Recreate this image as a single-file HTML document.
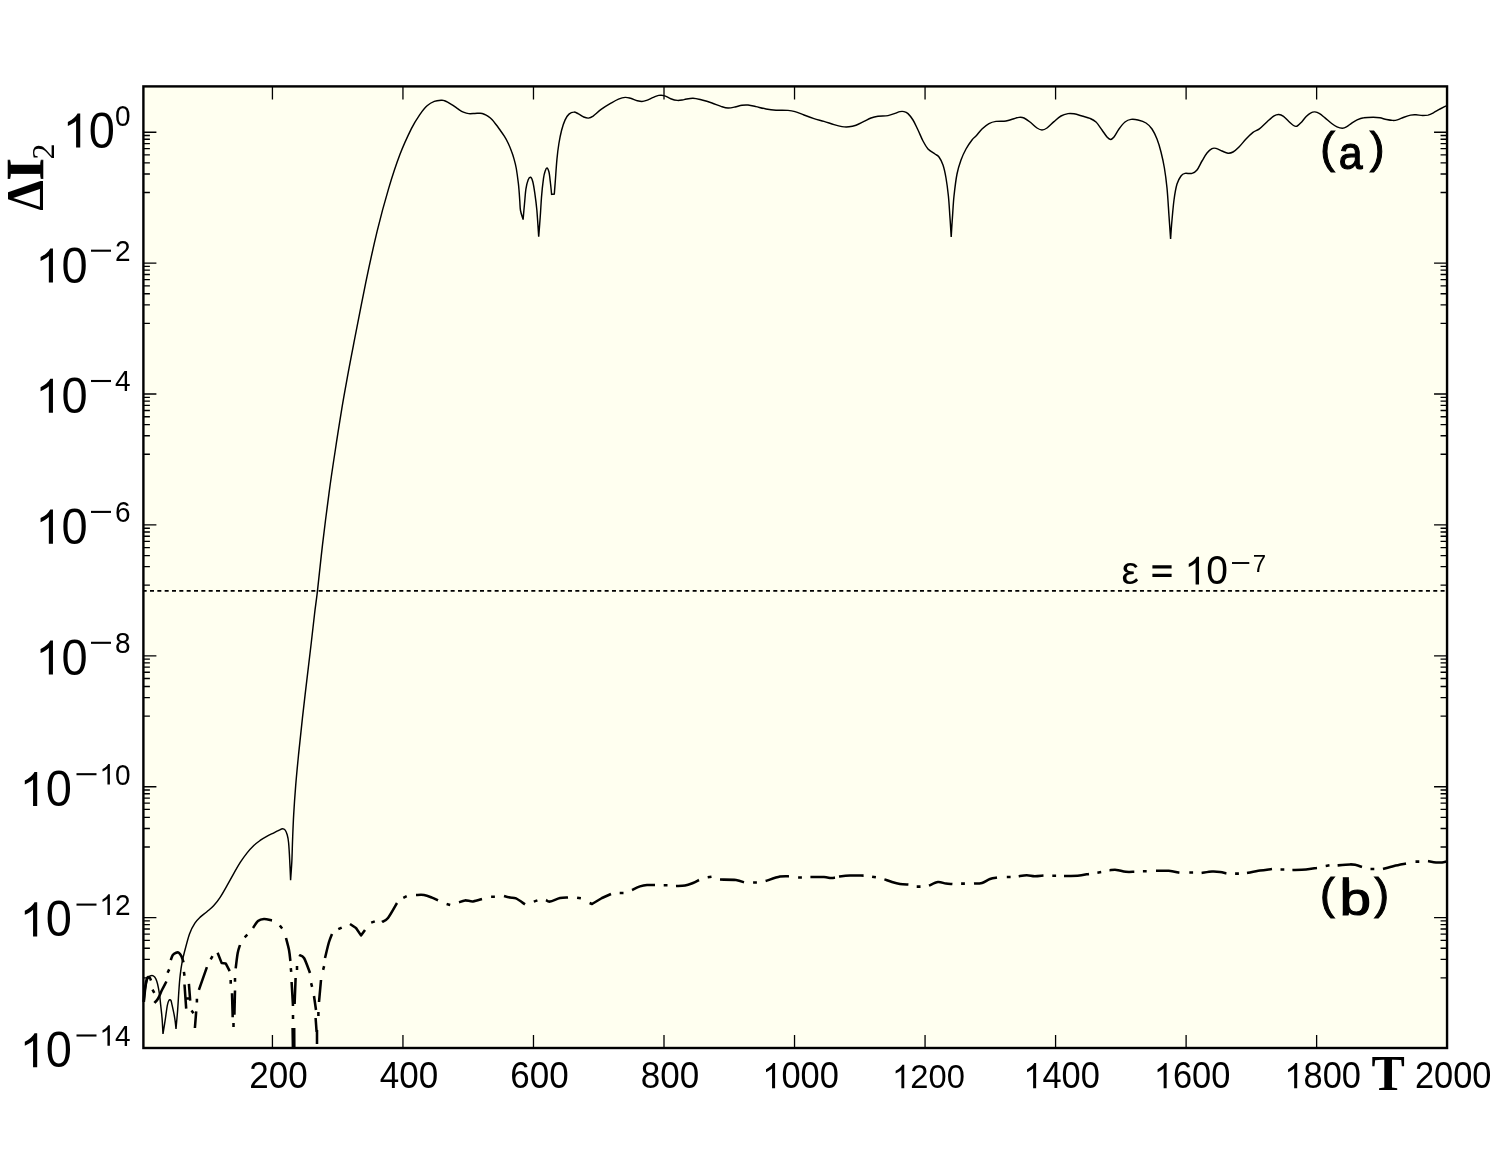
<!DOCTYPE html>
<html><head><meta charset="utf-8"><title>Chart</title>
<style>html,body{margin:0;padding:0;background:#fff;}svg{display:block;will-change:transform;}text{fill:#000;}</style></head>
<body>
<svg width="1500" height="1165" viewBox="0 0 1500 1165">
<rect x="0" y="0" width="1500" height="1165" fill="#ffffff"/>
<rect x="143.4" y="86.4" width="1303.65" height="961.60" fill="#fffff0" stroke="none"/>
<path d="M143.4 132.20h13.0M1447.05 132.20h-13.0M143.4 135.51h6.5M1447.05 135.51h-6.5M143.4 139.26h6.5M1447.05 139.26h-6.5M143.4 143.58h6.5M1447.05 143.58h-6.5M143.4 148.68h6.5M1447.05 148.68h-6.5M143.4 154.90h6.5M1447.05 154.90h-6.5M143.4 162.86h6.5M1447.05 162.86h-6.5M143.4 173.97h6.5M1447.05 173.97h-6.5M143.4 192.47h6.5M1447.05 192.47h-6.5M143.4 263.10h13.0M1447.05 263.10h-13.0M143.4 266.41h6.5M1447.05 266.41h-6.5M143.4 270.16h6.5M1447.05 270.16h-6.5M143.4 274.48h6.5M1447.05 274.48h-6.5M143.4 279.58h6.5M1447.05 279.58h-6.5M143.4 285.80h6.5M1447.05 285.80h-6.5M143.4 293.76h6.5M1447.05 293.76h-6.5M143.4 304.87h6.5M1447.05 304.87h-6.5M143.4 323.37h6.5M1447.05 323.37h-6.5M143.4 394.00h13.0M1447.05 394.00h-13.0M143.4 397.31h6.5M1447.05 397.31h-6.5M143.4 401.06h6.5M1447.05 401.06h-6.5M143.4 405.38h6.5M1447.05 405.38h-6.5M143.4 410.48h6.5M1447.05 410.48h-6.5M143.4 416.70h6.5M1447.05 416.70h-6.5M143.4 424.66h6.5M1447.05 424.66h-6.5M143.4 435.77h6.5M1447.05 435.77h-6.5M143.4 454.27h6.5M1447.05 454.27h-6.5M143.4 524.90h13.0M1447.05 524.90h-13.0M143.4 528.21h6.5M1447.05 528.21h-6.5M143.4 531.96h6.5M1447.05 531.96h-6.5M143.4 536.28h6.5M1447.05 536.28h-6.5M143.4 541.38h6.5M1447.05 541.38h-6.5M143.4 547.60h6.5M1447.05 547.60h-6.5M143.4 555.56h6.5M1447.05 555.56h-6.5M143.4 566.67h6.5M1447.05 566.67h-6.5M143.4 585.17h6.5M1447.05 585.17h-6.5M143.4 655.80h13.0M1447.05 655.80h-13.0M143.4 659.11h6.5M1447.05 659.11h-6.5M143.4 662.86h6.5M1447.05 662.86h-6.5M143.4 667.18h6.5M1447.05 667.18h-6.5M143.4 672.28h6.5M1447.05 672.28h-6.5M143.4 678.50h6.5M1447.05 678.50h-6.5M143.4 686.46h6.5M1447.05 686.46h-6.5M143.4 697.57h6.5M1447.05 697.57h-6.5M143.4 716.07h6.5M1447.05 716.07h-6.5M143.4 786.70h13.0M1447.05 786.70h-13.0M143.4 790.01h6.5M1447.05 790.01h-6.5M143.4 793.76h6.5M1447.05 793.76h-6.5M143.4 798.08h6.5M1447.05 798.08h-6.5M143.4 803.18h6.5M1447.05 803.18h-6.5M143.4 809.40h6.5M1447.05 809.40h-6.5M143.4 817.36h6.5M1447.05 817.36h-6.5M143.4 828.47h6.5M1447.05 828.47h-6.5M143.4 846.97h6.5M1447.05 846.97h-6.5M143.4 917.60h13.0M1447.05 917.60h-13.0M143.4 920.91h6.5M1447.05 920.91h-6.5M143.4 924.66h6.5M1447.05 924.66h-6.5M143.4 928.98h6.5M1447.05 928.98h-6.5M143.4 934.08h6.5M1447.05 934.08h-6.5M143.4 940.30h6.5M1447.05 940.30h-6.5M143.4 948.26h6.5M1447.05 948.26h-6.5M143.4 959.37h6.5M1447.05 959.37h-6.5M143.4 977.87h6.5M1447.05 977.87h-6.5" stroke="#000" stroke-width="1.35" fill="none"/>
<path d="M272.43 1048.0v-13.0M272.43 86.4v13.0M402.95 1048.0v-13.0M402.95 86.4v13.0M533.48 1048.0v-13.0M533.48 86.4v13.0M664.00 1048.0v-13.0M664.00 86.4v13.0M794.53 1048.0v-13.0M794.53 86.4v13.0M925.06 1048.0v-13.0M925.06 86.4v13.0M1055.58 1048.0v-13.0M1055.58 86.4v13.0M1186.11 1048.0v-13.0M1186.11 86.4v13.0M1316.63 1048.0v-13.0M1316.63 86.4v13.0" stroke="#000" stroke-width="1.3" fill="none"/>
<path d="M143.4 590.9H1447.05" stroke="#000" stroke-width="1.9" stroke-dasharray="4 3.333" stroke-dashoffset="0.73" fill="none"/>
<path d="M144.4 1001.9C144.6 1000.2 145.0 995.1 145.4 991.9C145.8 988.7 146.1 985.0 146.7 982.5C147.2 980.0 147.8 978.3 148.7 977.1C149.6 975.9 151.0 975.5 152.0 975.5C153.0 975.5 153.9 976.2 154.7 977.1C155.5 978.0 156.1 979.3 156.7 981.1C157.3 982.9 157.9 985.3 158.4 987.8C158.9 990.3 159.3 993.0 159.7 995.9C160.1 998.8 160.3 1001.4 160.7 1005.2C161.1 1009.0 161.7 1013.8 162.1 1018.6C162.5 1023.4 162.8 1031.4 163.0 1034.0C163.4 1031.4 164.7 1023.4 165.4 1018.6C166.1 1013.8 166.8 1008.2 167.4 1005.2C168.0 1002.2 168.2 1001.4 168.8 1000.6C169.4 999.8 170.2 999.4 170.8 1000.2C171.4 1001.0 171.4 1002.1 172.1 1005.2C172.8 1008.3 174.2 1014.6 174.8 1018.6C175.5 1022.6 175.8 1027.3 176.0 1029.0C176.2 1026.2 177.0 1018.2 177.5 1012.0C178.0 1005.8 178.4 998.0 178.8 991.9C179.2 985.8 179.6 980.1 180.2 975.1C180.8 970.1 181.5 965.4 182.2 961.7C182.9 958.0 183.0 957.6 184.2 953.0C185.4 948.4 187.7 938.9 189.5 933.9C191.3 928.9 193.1 926.0 194.9 923.2C196.7 920.4 198.2 919.0 200.2 917.1C202.2 915.2 204.7 913.7 206.9 911.8C209.1 909.9 211.4 908.2 213.6 905.8C215.8 903.3 218.1 900.5 220.3 897.1C222.5 893.8 224.8 889.6 227.0 885.7C229.2 881.8 231.5 877.5 233.7 873.6C235.9 869.7 238.2 865.7 240.4 862.2C242.6 858.8 244.9 855.7 247.1 852.9C249.3 850.1 251.6 847.6 253.8 845.5C256.0 843.4 258.3 841.8 260.5 840.2C262.7 838.6 265.0 837.3 267.2 836.1C269.4 834.9 271.9 833.8 273.9 832.8C275.9 831.8 277.8 830.8 279.2 830.1C280.6 829.4 281.6 828.8 282.6 828.8C283.6 828.8 284.4 829.1 285.2 830.1C286.0 831.1 286.6 832.7 287.2 834.8C287.8 836.9 288.2 838.6 288.6 842.8C289.0 847.0 289.4 854.0 289.7 860.2C290.0 866.5 290.5 876.9 290.6 880.3C290.8 876.9 291.6 867.1 291.9 860.2C292.2 853.3 292.3 846.5 292.6 838.9C292.9 831.3 293.2 823.3 293.7 814.4C294.2 805.5 294.9 795.4 295.7 785.4C296.5 775.4 297.5 765.3 298.6 754.1C299.7 742.9 301.0 730.7 302.4 718.4C303.8 706.1 305.3 693.0 306.8 680.4C308.3 667.8 310.0 653.6 311.3 642.5C312.6 631.4 313.6 622.1 314.6 613.5C315.6 604.9 316.2 602.2 317.5 590.7C318.8 579.2 320.6 561.0 322.5 544.8C324.4 528.6 326.9 509.2 329.0 493.3C331.1 477.4 333.2 463.7 335.4 449.5C337.5 435.3 339.8 421.1 341.9 408.2C344.0 395.3 346.2 383.8 348.3 372.2C350.4 360.6 351.8 353.6 354.7 338.7C357.6 323.8 362.0 300.8 365.7 282.9C369.4 265.0 373.3 247.1 377.1 231.4C380.9 215.7 384.8 201.4 388.6 188.6C392.4 175.8 396.2 164.3 400.0 154.3C403.8 144.3 408.1 135.3 411.4 128.6C414.7 121.9 417.4 118.1 420.0 114.3C422.6 110.5 424.7 107.8 427.1 105.7C429.5 103.6 431.9 102.3 434.3 101.4C436.7 100.5 439.8 100.4 441.5 100.3C443.2 100.2 443.4 100.3 444.5 100.7C445.6 101.1 446.5 101.6 448.0 102.4C449.5 103.2 451.6 104.5 453.4 105.7C455.2 106.9 457.0 108.3 458.7 109.4C460.4 110.5 461.7 111.4 463.4 112.1C465.1 112.8 466.9 113.4 468.8 113.6C470.7 113.8 472.9 113.5 474.8 113.4C476.7 113.4 478.6 113.2 480.2 113.3C481.8 113.4 482.9 113.7 484.2 114.2C485.5 114.7 486.9 115.5 488.2 116.4C489.5 117.3 490.9 118.4 492.2 119.8C493.5 121.2 494.9 123.1 496.2 124.8C497.5 126.5 498.8 128.3 500.2 130.2C501.6 132.1 502.9 134.0 504.3 136.2C505.7 138.4 507.1 140.9 508.3 143.5C509.5 146.1 510.7 149.0 511.6 151.6C512.6 154.2 513.2 156.1 514.0 158.9C514.8 161.7 515.6 164.4 516.3 168.5C517.0 172.6 517.8 178.5 518.4 183.7C519.0 188.9 519.4 195.3 519.7 199.8C520.1 204.3 519.9 207.2 520.5 210.5C521.1 213.8 522.7 218.1 523.1 219.6C523.3 217.0 524.0 208.9 524.5 203.8C525.0 198.7 525.3 193.1 525.9 189.1C526.5 185.1 527.4 181.7 528.2 179.7C529.0 177.7 529.8 177.0 530.6 177.3C531.4 177.6 532.1 179.1 532.8 181.7C533.5 184.3 534.1 188.3 534.8 193.1C535.5 197.9 536.2 203.2 536.9 210.5C537.5 217.8 538.4 232.2 538.7 236.6C539.0 233.4 539.7 223.8 540.2 217.2C540.7 210.6 541.0 203.6 541.5 197.1C542.0 190.6 542.9 182.8 543.5 178.4C544.1 174.1 544.6 172.7 545.2 171.0C545.8 169.3 546.3 167.9 546.9 168.0C547.5 168.1 548.3 169.5 548.9 171.7C549.5 173.9 549.8 177.2 550.2 181.0C550.7 184.8 551.4 192.2 551.6 194.4C552.0 194.3 553.8 194.2 554.3 194.1C554.5 191.2 555.2 182.8 555.6 177.0C556.0 171.2 556.4 165.2 556.9 159.6C557.4 154.0 558.1 148.4 558.9 143.5C559.7 138.6 560.6 134.1 561.6 130.2C562.6 126.3 563.8 122.8 565.0 120.1C566.2 117.4 567.5 115.4 569.0 114.1C570.5 112.8 572.1 112.1 573.7 112.1C575.3 112.0 576.7 113.0 578.4 113.8C580.1 114.6 582.0 116.3 583.7 117.0C585.4 117.7 586.8 118.2 588.4 118.1C590.0 117.9 591.0 117.5 593.1 116.1C595.2 114.6 598.2 111.5 601.1 109.4C604.0 107.3 607.6 105.1 610.5 103.4C613.4 101.7 616.0 100.1 618.5 99.1C621.0 98.1 623.2 97.5 625.2 97.4C627.2 97.3 628.6 97.8 630.6 98.3C632.6 98.8 635.4 100.2 637.3 100.7C639.2 101.2 640.3 101.5 641.9 101.5C643.5 101.5 644.7 101.1 646.6 100.4C648.5 99.7 651.3 98.2 653.3 97.4C655.3 96.6 656.9 95.7 658.7 95.4C660.5 95.1 662.0 95.0 664.0 95.6C666.0 96.1 668.5 97.9 670.7 98.7C672.9 99.5 675.2 100.2 677.4 100.4C679.6 100.6 681.5 100.0 684.1 99.6C686.7 99.2 690.0 98.1 693.0 98.2C696.0 98.3 698.8 99.2 702.0 100.0C705.2 100.8 708.8 101.9 712.0 103.0C715.2 104.1 718.3 105.6 721.0 106.4C723.7 107.2 725.7 107.9 728.0 108.0C730.3 108.1 732.7 107.5 735.0 107.0C737.3 106.5 739.8 105.5 742.0 105.2C744.2 104.9 745.7 104.8 748.0 105.0C750.3 105.2 753.0 105.9 756.0 106.6C759.0 107.3 762.7 108.4 766.0 109.0C769.3 109.6 772.3 110.0 776.0 110.2C779.7 110.4 784.8 110.2 788.0 110.4C791.2 110.6 792.3 110.8 795.0 111.6C797.7 112.4 800.8 113.8 804.0 115.0C807.2 116.2 810.7 117.5 814.0 118.6C817.3 119.7 820.7 120.4 824.0 121.4C827.3 122.4 831.0 123.7 834.0 124.6C837.0 125.5 839.5 126.2 842.0 126.6C844.5 127.0 846.7 127.0 849.0 126.8C851.3 126.6 853.5 126.1 856.0 125.2C858.5 124.3 861.5 122.6 864.0 121.4C866.5 120.2 868.7 118.9 871.0 118.0C873.3 117.1 875.2 116.6 878.0 116.2C880.8 115.8 885.2 116.1 888.0 115.6C890.8 115.1 893.0 114.1 895.0 113.4C897.0 112.7 898.5 111.9 900.0 111.6C901.5 111.3 902.7 111.3 904.0 111.6C905.3 111.9 906.5 112.2 908.0 113.6C909.5 115.0 911.3 117.3 913.0 120.0C914.7 122.7 916.3 126.5 918.0 130.0C919.7 133.5 921.3 137.8 923.0 141.0C924.7 144.2 926.0 146.8 928.0 149.0C930.0 151.2 933.2 152.7 935.0 154.0C936.8 155.3 937.7 155.2 939.0 157.0C940.3 158.8 941.8 161.5 943.0 165.0C944.2 168.5 945.1 172.8 946.0 178.0C946.9 183.2 947.7 189.3 948.4 196.0C949.1 202.7 949.5 211.2 950.0 218.0C950.5 224.8 951.0 233.8 951.2 237.0C951.4 233.8 951.9 224.8 952.4 218.0C952.9 211.2 953.2 203.3 954.0 196.0C954.8 188.7 955.8 180.0 957.0 174.0C958.2 168.0 959.5 164.2 961.0 160.0C962.5 155.8 964.2 152.3 966.0 149.0C967.8 145.7 970.3 142.2 972.0 140.0C973.7 137.8 974.3 137.8 976.0 136.0C977.7 134.2 979.8 131.1 982.0 129.0C984.2 126.9 986.7 124.9 989.0 123.6C991.3 122.3 993.2 121.8 996.0 121.4C998.8 121.0 1003.2 121.4 1006.0 121.0C1008.8 120.6 1010.8 119.6 1013.0 119.0C1015.2 118.4 1017.2 117.6 1019.0 117.4C1020.8 117.2 1022.2 117.2 1024.0 118.0C1025.8 118.8 1027.8 120.3 1030.0 122.0C1032.2 123.7 1035.0 126.7 1037.0 128.0C1039.0 129.3 1040.3 130.0 1042.0 130.0C1043.7 130.0 1045.0 129.4 1047.0 128.0C1049.0 126.6 1051.7 123.6 1054.0 121.6C1056.3 119.6 1058.7 117.3 1061.0 116.0C1063.3 114.7 1065.8 114.0 1068.0 113.6C1070.2 113.2 1071.7 113.4 1074.0 113.8C1076.3 114.2 1079.3 115.2 1082.0 116.0C1084.7 116.8 1087.7 117.4 1090.0 118.4C1092.3 119.4 1094.0 120.1 1096.0 122.0C1098.0 123.9 1100.2 127.5 1102.0 130.0C1103.8 132.5 1105.6 135.4 1107.0 137.0C1108.4 138.6 1109.4 139.4 1110.6 139.4C1111.8 139.4 1112.6 138.7 1114.0 137.0C1115.4 135.3 1117.2 131.5 1119.0 129.0C1120.8 126.5 1123.0 123.6 1125.0 122.0C1127.0 120.4 1128.8 119.7 1131.0 119.4C1133.2 119.1 1135.5 119.4 1138.0 120.0C1140.5 120.6 1143.7 121.5 1146.0 123.0C1148.3 124.5 1150.2 126.3 1152.0 129.0C1153.8 131.7 1155.5 135.2 1157.0 139.0C1158.5 142.8 1159.8 147.2 1161.0 152.0C1162.2 156.8 1163.4 162.0 1164.4 168.0C1165.4 174.0 1166.2 180.0 1167.0 188.0C1167.8 196.0 1168.4 207.5 1169.0 216.0C1169.6 224.5 1170.3 235.2 1170.6 239.0C1170.8 235.8 1171.4 226.5 1172.0 220.0C1172.6 213.5 1173.2 206.0 1174.0 200.0C1174.8 194.0 1175.8 188.0 1177.0 184.0C1178.2 180.0 1179.7 177.8 1181.0 176.0C1182.3 174.2 1183.2 173.8 1185.0 173.4C1186.8 173.0 1190.0 174.0 1192.0 173.4C1194.0 172.8 1195.3 172.1 1197.0 170.0C1198.7 167.9 1200.3 163.8 1202.0 161.0C1203.7 158.2 1205.3 155.1 1207.0 153.0C1208.7 150.9 1210.5 149.4 1212.0 148.6C1213.5 147.8 1214.3 148.0 1216.0 148.4C1217.7 148.8 1220.0 150.2 1222.0 151.0C1224.0 151.8 1226.2 153.0 1228.0 153.2C1229.8 153.4 1231.2 153.0 1233.0 152.0C1234.8 151.0 1236.8 149.2 1239.0 147.0C1241.2 144.8 1243.7 141.4 1246.0 139.0C1248.3 136.6 1250.8 134.1 1253.0 132.4C1255.2 130.7 1257.0 130.7 1259.4 128.9C1261.8 127.1 1265.0 123.7 1267.4 121.5C1269.9 119.3 1272.2 117.1 1274.1 115.9C1276.0 114.7 1277.2 114.4 1278.8 114.5C1280.4 114.6 1281.8 115.2 1283.5 116.4C1285.2 117.6 1287.1 120.0 1288.8 121.5C1290.5 123.0 1292.2 124.7 1293.5 125.5C1294.8 126.3 1295.7 126.7 1296.9 126.2C1298.1 125.8 1299.4 124.4 1300.9 122.8C1302.5 121.2 1304.5 118.1 1306.2 116.4C1307.9 114.7 1309.5 113.5 1310.9 112.8C1312.4 112.0 1313.5 111.8 1314.9 111.9C1316.4 112.1 1317.9 112.7 1319.6 113.7C1321.3 114.7 1323.0 116.3 1325.0 117.9C1327.0 119.5 1329.7 122.0 1331.7 123.5C1333.7 125.0 1335.2 126.1 1337.0 126.9C1338.8 127.7 1340.8 128.2 1342.4 128.2C1344.0 128.2 1344.9 127.8 1346.4 126.9C1348.0 126.1 1349.9 124.3 1351.7 123.1C1353.5 121.9 1355.1 120.8 1357.1 119.9C1359.1 119.0 1361.1 118.2 1363.8 117.8C1366.5 117.3 1370.5 117.2 1373.2 117.2C1375.9 117.2 1377.7 117.4 1379.9 117.8C1382.1 118.2 1384.4 119.1 1386.5 119.5C1388.6 119.9 1390.8 120.3 1392.6 120.4C1394.4 120.5 1395.4 120.4 1397.3 119.9C1399.2 119.4 1401.7 118.0 1403.9 117.2C1406.1 116.4 1408.6 115.5 1410.6 115.1C1412.6 114.7 1414.0 114.7 1416.0 114.8C1418.0 114.9 1420.7 115.5 1422.7 115.5C1424.7 115.5 1426.2 115.5 1428.0 115.1C1429.8 114.6 1431.6 113.7 1433.4 112.8C1435.2 111.9 1437.0 110.7 1438.8 109.7C1440.6 108.7 1442.8 107.5 1444.1 106.8C1445.4 106.1 1446.3 105.9 1446.8 105.7" stroke="#000" stroke-width="1.45" fill="none" stroke-linejoin="miter" stroke-miterlimit="2.5"/>
<path d="M143.6 1001.9C143.8 999.5 144.4 991.7 145.0 987.8C145.6 983.9 146.3 980.3 147.0 978.5C147.7 976.7 148.7 976.8 149.4 977.1C150.1 977.4 150.7 979.9 151.0 980.5M152.5 989.6L154.3 992.8M154.4 1002.9C155.0 1002.2 156.8 1000.7 158.1 998.5C159.4 996.3 160.7 992.6 162.1 989.8C163.5 987.0 165.7 982.9 166.4 981.5M167.6 972.8L169.2 969.4M170.8 960.1C171.1 959.2 171.9 956.2 172.8 955.0C173.7 953.8 175.1 953.1 176.1 952.7C177.1 952.3 177.9 952.1 178.8 952.7C179.7 953.3 180.7 954.8 181.5 956.4C182.3 958.0 183.2 961.4 183.5 962.4M183.9 971.9L184.5 975.7M184.5 984.5L186.2 1008.6M188.9 983.8L190.2 1000.6M186.0 998.5L190.0 998.5M196.9 998.7L196.9 1002.5M191.5 1010.6L193.5 1013.3M196.2 1011.3L194.9 1028.0M198.9 989.8L206.9 967.1M210.7 959.3L212.5 956.1M217.6 952.7L221.7 963.1L225.7 963.4L229.7 971.1M230.7 979.9L230.7 983.7M235.0 977.9L235.0 981.7M232.0 993.2L232.7 1017.3M235.0 990.5L234.4 1014.6M233.5 1023.1L233.5 1026.9M235.7 968.4C236.0 965.8 237.0 956.9 237.7 953.0C238.4 949.1 239.6 946.3 240.0 945.0M244.7 937.3L247.3 934.7M253.0 928.0C253.8 926.8 256.2 922.5 258.0 921.0C259.8 919.5 261.7 919.1 264.0 919.0C266.3 918.9 270.7 920.2 272.0 920.4M279.8 925.5L282.2 928.5M286.0 938.0C286.5 940.0 288.3 946.2 289.0 950.0C289.7 953.8 290.2 959.2 290.4 961.0M290.8 968.1L291.2 971.9M297.0 966.1L297.0 969.9M291.6 982.0L293.0 1006.0M295.6 978.0L294.6 1004.0M293.0 1015.1L293.0 1018.9M292.6 1028.0L292.9 1047.0M294.2 1028.0L294.3 1047.0M299.0 955.0C299.8 955.5 302.2 955.0 304.0 958.0C305.8 961.0 309.0 970.5 310.0 973.0M311.1 983.2L312.1 986.8M314.0 996.0L316.0 1010.0M318.4 1012.1L318.4 1015.9M315.6 1018.0L316.6 1032.0M317.0 1030.0L317.0 1044.0M319.0 1002.0L321.0 980.0M323.1 969.8L324.1 966.2M325.0 958.0C325.7 955.3 327.8 946.0 329.0 942.0C330.2 938.0 331.5 935.3 332.0 934.0M338.3 929.2L341.7 927.6M350.0 924.0L356.0 928.0L361.0 935.4L365.0 930.0M371.2 922.6L374.8 921.4M382.0 922.0C383.0 921.3 385.5 921.2 388.0 918.0C390.5 914.8 395.5 905.5 397.0 903.0M403.3 897.8L406.7 896.2M416.0 895.0C417.3 895.0 421.3 894.6 424.0 895.0C426.7 895.4 429.7 896.7 432.0 897.6C434.3 898.5 437.0 899.9 438.0 900.4M446.6 903.9L450.2 904.9M459.0 902.4C460.0 902.1 462.7 900.6 465.0 900.4C467.3 900.2 470.2 901.6 473.0 901.4C475.8 901.2 480.5 899.4 482.0 899.0M491.1 896.8L494.9 896.8M504.0 896.0C505.0 896.3 508.0 897.2 510.0 897.6C512.0 898.0 513.5 897.3 516.0 898.4C518.5 899.5 523.5 903.4 525.0 904.4M533.8 901.6L537.4 900.4M546.0 900.0C546.7 900.3 547.7 901.9 550.0 901.6C552.3 901.3 557.0 898.7 560.0 898.0C563.0 897.3 566.7 897.5 568.0 897.4M577.1 897.7L580.9 898.3M589.6 903.0L592.0 904.0L602.0 898.0L611.0 894.0M619.7 893.0L623.5 893.0M632.0 890.0C633.3 889.4 637.5 887.2 640.0 886.4C642.5 885.6 644.5 885.2 647.0 885.0C649.5 884.8 653.7 885.0 655.0 885.0M663.7 885.2L667.5 885.2M676.0 886.0C677.5 885.9 682.2 886.1 685.0 885.6C687.8 885.1 690.7 883.9 693.0 883.0C695.3 882.1 698.0 880.5 699.0 880.0M707.7 877.3L711.5 876.7M720.0 879.6C722.7 879.7 732.0 879.5 736.0 880.0C740.0 880.5 742.7 882.0 744.0 882.4M753.1 882.4L756.9 882.4M765.6 881.0C768.0 880.3 776.1 877.4 780.0 876.6C783.9 875.8 787.5 876.3 789.0 876.2M798.1 877.4L801.9 877.4M810.4 877.0C812.7 877.0 820.6 876.8 824.0 877.0C827.4 877.2 829.2 877.9 831.0 878.0C832.8 878.1 834.3 877.7 835.0 877.6M839.0 876.6C840.8 876.4 845.9 875.8 850.0 875.6C854.1 875.4 861.3 875.6 863.6 875.6M872.1 876.7L875.9 877.3M884.4 879.4C885.7 879.8 889.4 881.2 892.0 882.0C894.6 882.8 897.3 883.6 900.0 884.0C902.7 884.4 907.0 884.5 908.4 884.6M916.7 886.6L920.5 886.6M929.0 885.6C930.5 885.0 935.2 882.3 938.0 882.0C940.8 881.7 943.6 883.3 946.0 883.6C948.4 883.9 951.3 883.9 952.4 884.0M961.1 883.6L964.9 883.6M974.0 883.6C975.3 883.5 979.3 883.8 982.0 883.0C984.7 882.2 987.5 879.9 990.0 879.0C992.5 878.1 995.8 877.8 997.0 877.6M1006.8 876.9L1010.6 876.9M1018.7 876.2C1020.1 876.0 1024.1 875.2 1026.8 875.2C1029.5 875.2 1032.0 876.2 1034.8 876.2C1037.6 876.2 1042.0 875.6 1043.5 875.5M1052.3 875.8L1056.1 875.8M1064.0 875.9C1066.3 875.9 1073.4 876.1 1077.6 875.8C1081.8 875.5 1087.1 874.2 1089.0 873.9M1097.4 872.7L1101.2 872.1M1109.5 870.2C1110.7 870.2 1113.8 869.6 1116.5 869.9C1119.2 870.2 1122.8 871.5 1125.8 871.8C1128.8 872.1 1132.9 871.8 1134.3 871.8M1142.9 871.2L1146.7 871.2M1156.0 870.8C1158.1 870.8 1164.8 870.5 1168.7 870.8C1172.6 871.1 1177.6 872.5 1179.4 872.8M1189.3 872.5L1193.1 872.5M1201.6 873.0C1203.3 872.8 1208.9 871.8 1212.0 871.6C1215.1 871.4 1217.6 871.7 1220.0 872.0C1222.4 872.3 1225.3 873.2 1226.4 873.4M1235.1 873.6L1238.9 873.6M1247.0 873.0C1249.2 872.6 1255.8 871.3 1260.0 870.6C1264.2 869.9 1270.0 869.3 1272.0 869.0M1280.5 869.4L1284.3 869.4M1292.4 870.0C1294.7 869.9 1301.9 869.7 1306.0 869.4C1310.1 869.1 1315.2 868.2 1317.0 868.0M1325.7 865.9L1329.5 865.3M1337.6 865.4C1339.7 865.2 1346.9 864.5 1350.0 864.4C1353.1 864.3 1354.0 864.6 1356.0 865.0C1358.0 865.4 1361.0 866.7 1362.0 867.0M1370.5 869.0L1374.3 869.0M1383.0 869.0C1384.8 868.5 1390.2 866.9 1394.0 866.0C1397.8 865.1 1404.0 864.0 1406.0 863.6M1415.5 861.6L1419.3 861.6M1428.0 861.0C1429.3 861.2 1433.7 862.2 1436.0 862.4C1438.3 862.6 1440.2 862.5 1442.0 862.4C1443.8 862.3 1445.8 861.7 1446.5 861.6" stroke="#000" stroke-width="2.55" fill="none" stroke-linejoin="round"/>
<rect x="143.4" y="86.4" width="1303.65" height="961.60" fill="none" stroke="#000" stroke-width="2.4"/>
<text transform="translate(249.23,1088.20) scale(1,1.07)" font-family="Liberation Sans, sans-serif" font-size="35">2</text>
<text transform="translate(268.69,1088.20) scale(1,1.07)" font-family="Liberation Sans, sans-serif" font-size="35">0</text>
<text transform="translate(288.16,1088.20) scale(1,1.07)" font-family="Liberation Sans, sans-serif" font-size="35">0</text>
<text transform="translate(379.75,1088.20) scale(1,1.07)" font-family="Liberation Sans, sans-serif" font-size="35">4</text>
<text transform="translate(399.22,1088.20) scale(1,1.07)" font-family="Liberation Sans, sans-serif" font-size="35">0</text>
<text transform="translate(418.68,1088.20) scale(1,1.07)" font-family="Liberation Sans, sans-serif" font-size="35">0</text>
<text transform="translate(510.28,1088.20) scale(1,1.07)" font-family="Liberation Sans, sans-serif" font-size="35">6</text>
<text transform="translate(529.75,1088.20) scale(1,1.07)" font-family="Liberation Sans, sans-serif" font-size="35">0</text>
<text transform="translate(549.21,1088.20) scale(1,1.07)" font-family="Liberation Sans, sans-serif" font-size="35">0</text>
<text transform="translate(640.81,1088.20) scale(1,1.07)" font-family="Liberation Sans, sans-serif" font-size="35">8</text>
<text transform="translate(660.27,1088.20) scale(1,1.07)" font-family="Liberation Sans, sans-serif" font-size="35">0</text>
<text transform="translate(679.74,1088.20) scale(1,1.07)" font-family="Liberation Sans, sans-serif" font-size="35">0</text>
<path transform="translate(762.27,1088.20) scale(0.01680,-0.01720)" d="M763 0H583V1147Q518 1085 412.5 1023T223 930V1104Q374 1175 487 1276T647 1472H763Z"/>
<text transform="translate(781.40,1088.20) scale(1,1.07)" font-family="Liberation Sans, sans-serif" font-size="34.4">0</text>
<text transform="translate(800.53,1088.20) scale(1,1.07)" font-family="Liberation Sans, sans-serif" font-size="34.4">0</text>
<text transform="translate(819.66,1088.20) scale(1,1.07)" font-family="Liberation Sans, sans-serif" font-size="34.4">0</text>
<path transform="translate(892.08,1088.20) scale(0.01597,-0.01589)" d="M763 0H583V1147Q518 1085 412.5 1023T223 930V1104Q374 1175 487 1276T647 1472H763Z"/>
<text transform="translate(910.27,1088.20) scale(1,1.04)" font-family="Liberation Sans, sans-serif" font-size="32.7">2</text>
<text transform="translate(928.46,1088.20) scale(1,1.04)" font-family="Liberation Sans, sans-serif" font-size="32.7">0</text>
<text transform="translate(946.64,1088.20) scale(1,1.04)" font-family="Liberation Sans, sans-serif" font-size="32.7">0</text>
<path transform="translate(1023.32,1088.20) scale(0.01680,-0.01720)" d="M763 0H583V1147Q518 1085 412.5 1023T223 930V1104Q374 1175 487 1276T647 1472H763Z"/>
<text transform="translate(1042.45,1088.20) scale(1,1.07)" font-family="Liberation Sans, sans-serif" font-size="34.4">4</text>
<text transform="translate(1061.58,1088.20) scale(1,1.07)" font-family="Liberation Sans, sans-serif" font-size="34.4">0</text>
<text transform="translate(1080.71,1088.20) scale(1,1.07)" font-family="Liberation Sans, sans-serif" font-size="34.4">0</text>
<path transform="translate(1153.84,1088.20) scale(0.01680,-0.01720)" d="M763 0H583V1147Q518 1085 412.5 1023T223 930V1104Q374 1175 487 1276T647 1472H763Z"/>
<text transform="translate(1172.98,1088.20) scale(1,1.07)" font-family="Liberation Sans, sans-serif" font-size="34.4">6</text>
<text transform="translate(1192.11,1088.20) scale(1,1.07)" font-family="Liberation Sans, sans-serif" font-size="34.4">0</text>
<text transform="translate(1211.24,1088.20) scale(1,1.07)" font-family="Liberation Sans, sans-serif" font-size="34.4">0</text>
<path transform="translate(1284.37,1088.20) scale(0.01680,-0.01720)" d="M763 0H583V1147Q518 1085 412.5 1023T223 930V1104Q374 1175 487 1276T647 1472H763Z"/>
<text transform="translate(1303.50,1088.20) scale(1,1.07)" font-family="Liberation Sans, sans-serif" font-size="34.4">8</text>
<text transform="translate(1322.63,1088.20) scale(1,1.07)" font-family="Liberation Sans, sans-serif" font-size="34.4">0</text>
<text transform="translate(1341.77,1088.20) scale(1,1.07)" font-family="Liberation Sans, sans-serif" font-size="34.4">0</text>
<text transform="translate(1414.90,1088.20) scale(1,1.07)" font-family="Liberation Sans, sans-serif" font-size="34.4">2</text>
<text transform="translate(1434.03,1088.20) scale(1,1.07)" font-family="Liberation Sans, sans-serif" font-size="34.4">0</text>
<text transform="translate(1453.16,1088.20) scale(1,1.07)" font-family="Liberation Sans, sans-serif" font-size="34.4">0</text>
<text transform="translate(1472.29,1088.20) scale(1,1.07)" font-family="Liberation Sans, sans-serif" font-size="34.4">0</text>
<text transform="translate(115.03,126.00) scale(1,1.07)" font-family="Liberation Sans, sans-serif" font-size="28">0</text>
<path transform="translate(62.72,147.50) scale(0.02295,-0.02317)" d="M763 0H583V1147Q518 1085 412.5 1023T223 930V1104Q374 1175 487 1276T647 1472H763Z"/>
<text transform="translate(88.86,147.50) scale(1,1.055)" font-family="Liberation Sans, sans-serif" font-size="47">0</text>
<text transform="translate(115.03,261.00) scale(1,1.07)" font-family="Liberation Sans, sans-serif" font-size="28">2</text>
<path d="M91.0 250.7H111.0" stroke="#000" stroke-width="2.1"/>
<path transform="translate(35.45,282.50) scale(0.02295,-0.02317)" d="M763 0H583V1147Q518 1085 412.5 1023T223 930V1104Q374 1175 487 1276T647 1472H763Z"/>
<text transform="translate(61.59,282.50) scale(1,1.055)" font-family="Liberation Sans, sans-serif" font-size="47">0</text>
<text transform="translate(115.03,391.30) scale(1,1.07)" font-family="Liberation Sans, sans-serif" font-size="28">4</text>
<path d="M91.0 381.0H111.0" stroke="#000" stroke-width="2.1"/>
<path transform="translate(35.45,412.80) scale(0.02295,-0.02317)" d="M763 0H583V1147Q518 1085 412.5 1023T223 930V1104Q374 1175 487 1276T647 1472H763Z"/>
<text transform="translate(61.59,412.80) scale(1,1.055)" font-family="Liberation Sans, sans-serif" font-size="47">0</text>
<text transform="translate(115.03,522.20) scale(1,1.07)" font-family="Liberation Sans, sans-serif" font-size="28">6</text>
<path d="M91.0 511.9H111.0" stroke="#000" stroke-width="2.1"/>
<path transform="translate(35.45,543.70) scale(0.02295,-0.02317)" d="M763 0H583V1147Q518 1085 412.5 1023T223 930V1104Q374 1175 487 1276T647 1472H763Z"/>
<text transform="translate(61.59,543.70) scale(1,1.055)" font-family="Liberation Sans, sans-serif" font-size="47">0</text>
<text transform="translate(115.03,653.10) scale(1,1.07)" font-family="Liberation Sans, sans-serif" font-size="28">8</text>
<path d="M91.0 642.8H111.0" stroke="#000" stroke-width="2.1"/>
<path transform="translate(35.45,674.60) scale(0.02295,-0.02317)" d="M763 0H583V1147Q518 1085 412.5 1023T223 930V1104Q374 1175 487 1276T647 1472H763Z"/>
<text transform="translate(61.59,674.60) scale(1,1.055)" font-family="Liberation Sans, sans-serif" font-size="47">0</text>
<path transform="translate(99.46,784.50) scale(0.01367,-0.01400)" d="M763 0H583V1147Q518 1085 412.5 1023T223 930V1104Q374 1175 487 1276T647 1472H763Z"/>
<text transform="translate(115.03,784.50) scale(1,1.07)" font-family="Liberation Sans, sans-serif" font-size="28">0</text>
<path d="M76.5 774.2H96.5" stroke="#000" stroke-width="2.1"/>
<path transform="translate(19.68,806.00) scale(0.02295,-0.02317)" d="M763 0H583V1147Q518 1085 412.5 1023T223 930V1104Q374 1175 487 1276T647 1472H763Z"/>
<text transform="translate(45.82,806.00) scale(1,1.055)" font-family="Liberation Sans, sans-serif" font-size="47">0</text>
<path transform="translate(99.46,914.90) scale(0.01367,-0.01400)" d="M763 0H583V1147Q518 1085 412.5 1023T223 930V1104Q374 1175 487 1276T647 1472H763Z"/>
<text transform="translate(115.03,914.90) scale(1,1.07)" font-family="Liberation Sans, sans-serif" font-size="28">2</text>
<path d="M76.5 904.6H96.5" stroke="#000" stroke-width="2.1"/>
<path transform="translate(19.68,936.40) scale(0.02295,-0.02317)" d="M763 0H583V1147Q518 1085 412.5 1023T223 930V1104Q374 1175 487 1276T647 1472H763Z"/>
<text transform="translate(45.82,936.40) scale(1,1.055)" font-family="Liberation Sans, sans-serif" font-size="47">0</text>
<path transform="translate(99.46,1045.80) scale(0.01367,-0.01400)" d="M763 0H583V1147Q518 1085 412.5 1023T223 930V1104Q374 1175 487 1276T647 1472H763Z"/>
<text transform="translate(115.03,1045.80) scale(1,1.07)" font-family="Liberation Sans, sans-serif" font-size="28">4</text>
<path d="M76.5 1035.5H96.5" stroke="#000" stroke-width="2.1"/>
<path transform="translate(19.68,1067.30) scale(0.02295,-0.02317)" d="M763 0H583V1147Q518 1085 412.5 1023T223 930V1104Q374 1175 487 1276T647 1472H763Z"/>
<text transform="translate(45.82,1067.30) scale(1,1.055)" font-family="Liberation Sans, sans-serif" font-size="47">0</text>
<text x="1388.2" y="1090" font-family="Liberation Serif, serif" font-weight="bold" font-size="50" text-anchor="middle">T</text>
<g transform="translate(43,210.7) rotate(-90)"><text transform="scale(0.92,1)" x="0" y="0" font-family="Liberation Serif, serif" font-weight="bold" font-size="53">Δ</text></g>
<g transform="translate(43,180.6) rotate(-90)"><text transform="scale(1.08,1)" x="0" y="0" font-family="Liberation Serif, serif" font-weight="bold" font-size="53" stroke="#000" stroke-width="0.6">I</text></g>
<g transform="translate(54,159.6) rotate(-90)"><text x="0" y="0" font-family="Liberation Serif, serif" font-size="32">2</text></g>
<text transform="translate(1320.14,163.20) scale(1.02,1.0)" font-family="Liberation Sans, sans-serif" font-size="43.6" stroke="#000" stroke-width="1.0">(</text>
<text transform="translate(1338.80,168.50) scale(0.917,1.0)" font-family="Liberation Sans, sans-serif" font-size="46.7" stroke="#000" stroke-width="1.2">a</text>
<text transform="translate(1369.84,163.20) scale(1.02,1.0)" font-family="Liberation Sans, sans-serif" font-size="43.6" stroke="#000" stroke-width="1.0">)</text>
<text transform="translate(1320.10,909.20) scale(1.01,1.0)" font-family="Liberation Sans, sans-serif" font-size="44" stroke="#000" stroke-width="1.0">(</text>
<text transform="translate(1339.80,914.95) scale(1.23,1.0)" font-family="Liberation Sans, sans-serif" font-size="45.5" stroke="#000" stroke-width="1.2">b</text>
<text transform="translate(1374.24,909.20) scale(1.01,1.0)" font-family="Liberation Sans, sans-serif" font-size="44" stroke="#000" stroke-width="1.0">)</text>
<path d="M1345.85 877.2V890" stroke="#000" stroke-width="6.1"/>
<text x="1121.5" y="584.3" font-family="Liberation Sans, sans-serif" font-size="39">ε</text>
<path d="M1152.4 566.8H1171.6M1152.4 575.4H1171.6" stroke="#000" stroke-width="3.2"/>
<path transform="translate(1184.50,584.40) scale(0.01904,-0.01877)" d="M763 0H583V1147Q518 1085 412.5 1023T223 930V1104Q374 1175 487 1276T647 1472H763Z"/>
<text transform="translate(1206.19,584.40) scale(1,1.03)" font-family="Liberation Sans, sans-serif" font-size="39">0</text>
<path d="M1232 563H1249.3" stroke="#000" stroke-width="1.9"/>
<text x="1252.8" y="572" font-family="Liberation Sans, sans-serif" font-size="24">7</text>
</svg>
</body></html>
